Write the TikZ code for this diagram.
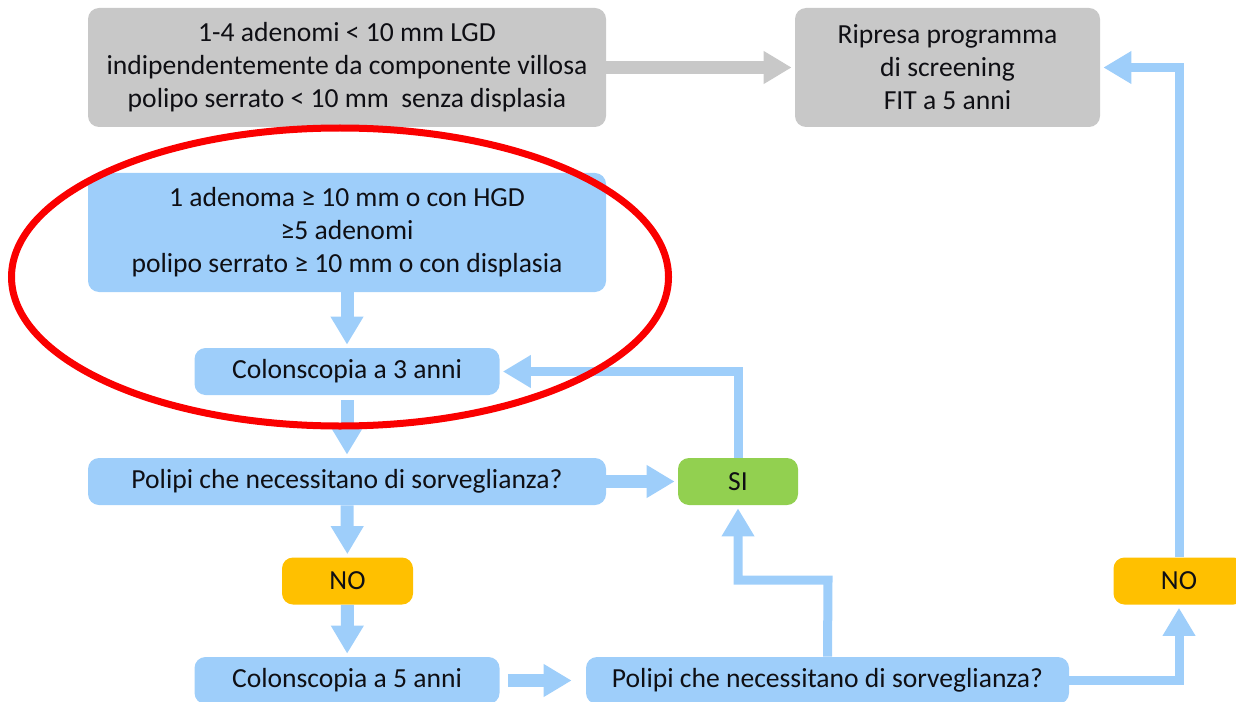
\documentclass[tikz,border=0pt]{standalone}
\usepackage{fontspec}
\setmainfont{Carlito}
\usepackage{xcolor,tikz}
\usetikzlibrary{arrows.meta,calc}
\tikzset{>=stealth}
\definecolor{boxblue}{RGB}{158,206,250}
\definecolor{boxgray}{RGB}{200,200,200}
\definecolor{boxgreen}{RGB}{146,208,80}
\definecolor{boxorange}{RGB}{255,192,0}
\definecolor{textdark}{RGB}{15,15,20}
\definecolor{markred}{RGB}{250,0,0}
\tikzset{
  box/.style={rounded corners=0.22cm, text=textdark, align=center, inner sep=0pt,
    font=\fontsize{15.7}{18.8}\selectfont},
  wide/.style={minimum width=10.36cm},
  mid/.style={minimum width=6.1cm},
  tall/.style={minimum height=2.38cm},
  flat/.style={minimum height=0.94cm},
  fat/.style={line width=0.26cm, boxblue, shorten >=0.06cm,
    -{Triangle[width=0.62cm,length=0.56cm]}},
  thin/.style={line width=0.18cm, boxblue, line join=miter, shorten >=0.06cm,
    -{Triangle[width=0.62cm,length=0.56cm]}}
}

\begin{document}
\begin{tikzpicture}
\useasboundingbox (0,0) rectangle (24.72,14.02);
\clip (0,0) rectangle (24.72,14.02);
%%%%
\node[box, fill=boxgray, wide, tall] (lgd) at (6.94,12.67) {1-4 adenomi < 10 mm LGD\\ indipendentemente da componente villosa\\ polipo serrato < 10 mm~ senza displasia};
\node[box, fill=boxgray, mid, tall] (fit) at (18.95,12.67) {Ripresa programma\\ di screening\\ FIT a 5 anni};
\node[box, fill=boxblue, wide, tall] (hgd) at (6.94,9.37) {1 adenoma ≥ 10 mm o con HGD\\ ≥5 adenomi\\ polipo serrato ≥ 10 mm o con displasia};
\node[box, fill=boxblue, mid, flat] (col3) at (6.94,6.59) {Colonscopia a 3 anni};
\node[box, fill=boxblue, wide, flat] (pol1) at (6.94,4.39) {Polipi che necessitano di sorveglianza?};
\node[box, fill=boxgreen, minimum width=2.4cm, flat] (si) at (14.76,4.39) {SI};
\node[box, fill=boxorange, minimum width=2.62cm, flat] (no1) at (6.95,2.40) {NO};
\node[box, fill=boxblue, mid, flat] (col5) at (6.94,0.41) {Colonscopia a 5 anni};
\node[box, fill=boxblue, minimum width=9.66cm, flat] (pol2) at (16.55,0.41) {Polipi che necessitano di sorveglianza?};
\node[box, fill=boxorange, minimum width=2.62cm, flat] (no2) at (23.58,2.40) {NO};
%%%%
\draw[fat, boxgray] (lgd) -- (fit);
\draw[fat] (hgd) -- (col3);
\draw[fat, shorten <=0.1cm] (col3) -- (pol1);
\draw[fat] (pol1) -- (si);
\draw[fat] (pol1) -- (no1);
\draw[fat] (no1) -- (col5);
\draw[fat, shorten <=0.16cm, shorten >=0.28cm] (col5) -- (pol2);
%%%%%
\coordinate (knee) at (16.56,2.42);
\draw[thin] (si.north) |- (col3.east);
\draw[thin] (pol2.north) -- (knee) -| (si.south);
\draw[thin] (pol2.east) -| (no2.south);
\draw[thin] (no2.north) |- (fit.east);
%%%%%
\draw[markred, line width=0.14cm] (6.8,8.48) ellipse [x radius=6.57cm, y radius=2.98cm];
\end{tikzpicture}
\end{document}
